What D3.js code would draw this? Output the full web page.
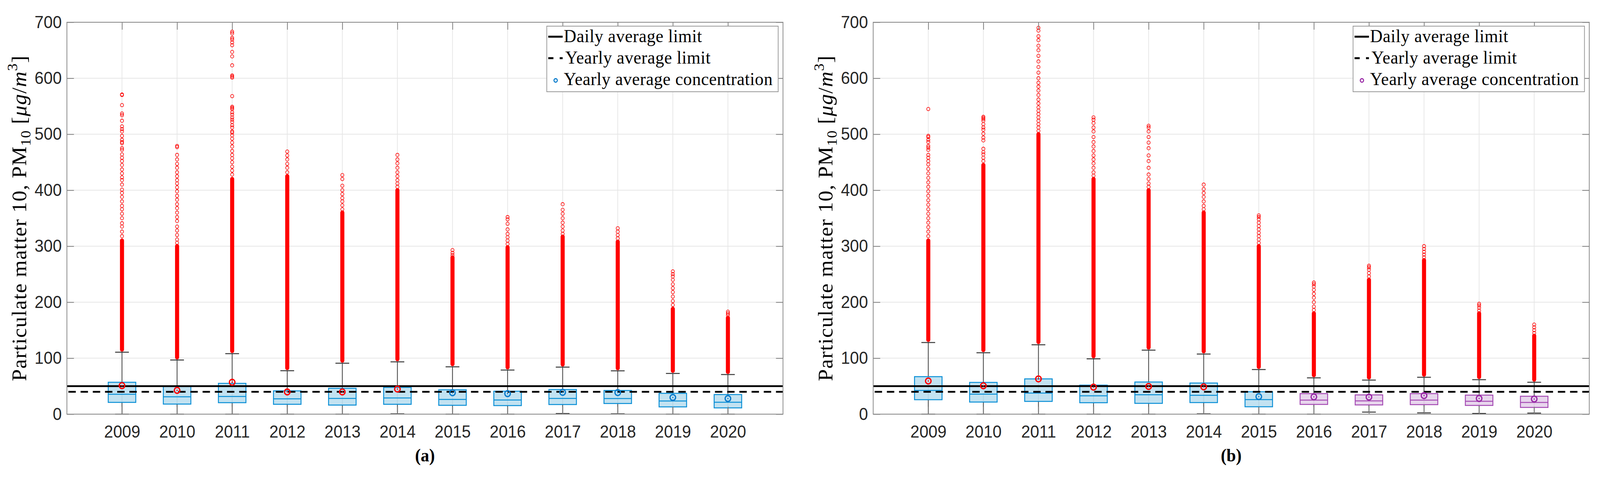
<!DOCTYPE html>
<html><head><meta charset="utf-8">
<script src="https://cdn.jsdelivr.net/npm/d3@7"></script>
<style>html,body{margin:0;padding:0;background:#fff;overflow:hidden;width:100%;height:100%}svg{display:block;width:100vw;height:100vh}</style>
</head><body>
<svg id="c" viewBox="0 0 4328 1222" preserveAspectRatio="none"></svg>
<script>
// ---------- DATA ----------
const years = [2009,2010,2011,2012,2013,2014,2015,2016,2017,2018,2019,2020];
const yTicks = [0,100,200,300,400,500,600,700];

// Panel (a)
const q1A   = [21, 18, 20.5, 17.6, 16.2, 17.6, 15.8, 15.3, 17.2, 19, 13, 11.2];
const medA  = [35.6, 31, 31.6, 27.4, 28.1, 29, 26.3, 25.3, 28, 27.9, 23.5, 21.2];
const q3A   = [57, 49.5, 55, 41.6, 46.2, 47.9, 43.5, 41, 44, 42.3, 37.2, 35];
const loA   = [0, 0, 0, 0, 0, 0.5, 0, 0, 1, 0.5, 0, 0];
const hiA   = [110.6, 96.7, 108, 77.6, 90.9, 93.4, 84.6, 78.8, 84, 77.4, 72.7, 70.7];
const meanA = [51, 42.5, 57, 39.7, 39.7, 44.8, 38.3, 36.7, 39, 38.6, 29.8, 27.9];
const denseA = [310, 300, 420, 425, 360, 400, 280, 298, 317, 308, 188, 172];
const sparseA = [
  [318,326,335,341,350,358,366,372,380,388,395,401,410,418,423,430,437,445,452,458,464,472,475,484,486,490,497,505,509,514,524,534,537,552,570,571],
  [306,312,320,328,335,345,352,360,368,375,383,390,398,405,412,418,425,432,440,447,455,463,477,479],
  [428,435,442,450,457,463,470,478,485,492,498,503,505,512,516,522,526,530,535,539,545,547,549,568,601,603,605,623,639,647,659,664,669,672,680,683],
  [432,440,447,455,462,469],
  [366,373,380,386,393,400,408,420,427],
  [406,412,418,425,432,440,448,455,463],
  [284,288,293],
  [304,310,316,322,330,340,348,352],
  [322,328,335,342,350,358,365,375],
  [314,320,326,332],
  [195,202,210,218,225,232,240,246,250,255],
  [177,180,183]
];
const groupA = ["b","b","b","b","b","b","b","b","b","b","b","b"];
const meanColA = ["r","r","r","r","r","r","b","b","b","b","b","b"];

// Panel (b)
const q1B   = [25.8, 21.6, 22.8, 20.4, 19.3, 20.7, 13.2, 17.4, 16.5, 17, 15.6, 12];
const medB  = [42.3, 35.8, 37.7, 32.8, 34.6, 33.7, 26, 25.1, 23.7, 25.1, 23, 21];
const q3B   = [67, 56.7, 63, 51.8, 57.4, 55.6, 40, 36.7, 34.4, 36.7, 34, 32];
const loB   = [0, 0, 0, 0, 0, 0.5, 0, 0, 3.7, 2.3, 1.2, 2];
const hiB   = [128, 109.7, 124, 98.8, 114.3, 107.4, 79.7, 64.8, 60.9, 65.8, 61.6, 57];
const meanB = [59.3, 50.7, 63, 48.3, 49.5, 48.8, 31.4, 30.9, 30.5, 33.2, 28, 27];
const denseB = [310, 445, 500, 420, 400, 360, 300, 180, 240, 275, 180, 140];
const sparseB = [
  [318,326,334,342,350,358,366,374,382,390,398,406,414,422,430,438,446,452,458,463,472,476,479,486,490,495,497,545],
  [452,458,464,468,474,489,494,501,508,512,518,524,527,529,531],
  [506,512,518,524,530,536,542,548,555,562,570,578,585,592,600,610,620,630,640,650,658,668,675,685,690],
  [426,432,440,448,455,462,470,478,486,495,505,512,520,526,530],
  [406,412,420,428,440,452,462,475,485,495,505,512,515],
  [366,372,380,388,395,402,410],
  [306,312,318,324,330,336,342,348,352,355],
  [186,192,200,208,215,222,228,232,235],
  [246,252,258,262,265],
  [280,285,290,295,300],
  [185,190,194,197],
  [145,150,155,160]
];
const groupB = ["b","b","b","b","b","b","b","p","p","p","p","p"];
const meanColB = ["r","r","r","r","r","r","b","p","p","p","p","p"];

const dailyLimit = 50, yearlyLimit = 40;
const legendLabels = ["Daily average limit", "Yearly average limit", "Yearly average concentration"];

// ---------- STYLE ----------
const COL = {
  b: {edge:"#0a8fd6", fill:"rgba(120,190,225,0.45)", mark:"#0a7ccc"},
  p: {edge:"#a54bb4", fill:"rgba(205,165,215,0.45)", mark:"#992aa6"},
  r: {mark:"#ff0000"}
};
const svg = d3.select("#c");
const yTop = 57, yBot = 1061;
const y = d3.scaleLinear().domain([0,700]).range([yBot, yTop]);
const SERIF = "'Liberation Serif', 'Times New Roman', serif";

const panels = [
  {x0:181, x1:2118, tag:"(a)", q1:q1A, med:medA, q3:q3A, lo:loA, hi:hiA, mean:meanA, dense:denseA, sparse:sparseA, group:groupA, meanCol:meanColA, legMark:"b"},
  {x0:2362, x1:4299, tag:"(b)", q1:q1B, med:medB, q3:q3B, lo:loB, hi:hiB, mean:meanB, dense:denseB, sparse:sparseB, group:groupB, meanCol:meanColB, legMark:"p"}
];

panels.forEach(P => {
  const x = d3.scaleLinear().domain([0,13]).range([P.x0, P.x1]);
  const g = svg.append("g");
  const idx = years.map((d,i)=>i);
  const pos = i => x(i+1);

  // grid
  g.append("g").selectAll("line").data(yTicks).join("line")
    .attr("x1",P.x0).attr("x2",P.x1).attr("y1",d=>y(d)).attr("y2",d=>y(d))
    .attr("stroke","#e6e6e6").attr("stroke-width",2);
  g.append("g").selectAll("line").data(idx).join("line")
    .attr("x1",pos).attr("x2",pos).attr("y1",yTop).attr("y2",yBot)
    .attr("stroke","#e6e6e6").attr("stroke-width",2);

  const bw = x(0.5)-x(0), cw = x(0.25)-x(0);
  // whiskers
  g.append("g").selectAll("line").data(idx).join("line")
    .attr("x1",pos).attr("x2",pos).attr("y1",i=>y(P.q3[i])).attr("y2",i=>y(P.hi[i]))
    .attr("stroke","#3a3a3a").attr("stroke-width",2);
  g.append("g").selectAll("line").data(idx).join("line")
    .attr("x1",pos).attr("x2",pos).attr("y1",i=>y(P.q1[i])).attr("y2",i=>y(P.lo[i]))
    .attr("stroke","#3a3a3a").attr("stroke-width",2);
  ["hi","lo"].forEach(k=>{
    g.append("g").selectAll("line").data(idx).join("line")
      .attr("x1",i=>pos(i)-cw/2).attr("x2",i=>pos(i)+cw/2).attr("y1",i=>y(P[k][i])).attr("y2",i=>y(P[k][i]))
      .attr("stroke","#3a3a3a").attr("stroke-width",2.5);
  });
  // outliers: dense band + sparse points
  g.append("g").selectAll("line").data(idx).join("line")
    .attr("x1",pos).attr("x2",pos).attr("y1",i=>y(P.hi[i])-7).attr("y2",i=>y(P.dense[i]))
    .attr("stroke","#ff0000").attr("stroke-width",11).attr("stroke-linecap","round");
  const pts = [];
  P.sparse.forEach((arr,i)=>arr.forEach(v=>pts.push({i,v})));
  g.append("g").selectAll("circle").data(pts).join("circle")
    .attr("cx",d=>pos(d.i)).attr("cy",d=>y(d.v)).attr("r",4.3)
    .attr("fill","none").attr("stroke","#ff0000").attr("stroke-width",1.6);
  // boxes
  g.append("g").selectAll("rect").data(idx).join("rect")
    .attr("x",i=>pos(i)-bw/2).attr("width",bw)
    .attr("y",i=>y(P.q3[i])).attr("height",i=>y(P.q1[i])-y(P.q3[i]))
    .attr("fill",i=>COL[P.group[i]].fill).attr("stroke",i=>COL[P.group[i]].edge).attr("stroke-width",2.5);
  g.append("g").selectAll("line").data(idx).join("line")
    .attr("x1",i=>pos(i)-bw/2).attr("x2",i=>pos(i)+bw/2).attr("y1",i=>y(P.med[i])).attr("y2",i=>y(P.med[i]))
    .attr("stroke",i=>COL[P.group[i]].edge).attr("stroke-width",2.5);
  // limit lines
  g.append("line").attr("x1",P.x0).attr("x2",P.x1).attr("y1",y(dailyLimit)).attr("y2",y(dailyLimit))
    .attr("stroke","#000").attr("stroke-width",4.5);
  g.append("line").attr("x1",P.x0).attr("x2",P.x1).attr("y1",y(yearlyLimit)).attr("y2",y(yearlyLimit))
    .attr("stroke","#000").attr("stroke-width",4.5).attr("stroke-dasharray","20,13").attr("stroke-dashoffset",-4);
  // mean markers
  g.append("g").selectAll("circle").data(idx).join("circle")
    .attr("cx",pos).attr("cy",i=>y(P.mean[i])).attr("r",7.5)
    .attr("fill","none").attr("stroke",i=>COL[P.meanCol[i]].mark).attr("stroke-width",3.5);
  g.append("g").selectAll("circle").data(idx).join("circle")
    .attr("cx",pos).attr("cy",i=>y(P.mean[i])).attr("r",1.8)
    .attr("fill",i=>COL[P.meanCol[i]].mark);

  // axes
  const styleAxis = a => {
    a.select(".domain").remove();
    a.selectAll(".tick line").attr("stroke","#808080").attr("stroke-width",2);
    a.selectAll("text").attr("font-family","'Liberation Sans', Arial, sans-serif").attr("font-size",44).attr("fill","#262626");
  };
  g.append("g").attr("transform",`translate(${P.x0},0)`)
    .call(d3.axisLeft(y).tickValues(yTicks).tickSize(-19).tickPadding(14)).call(styleAxis);
  g.append("g").attr("transform",`translate(${P.x1},0)`)
    .call(d3.axisRight(y).tickValues(yTicks).tickSize(-19).tickFormat("")).call(styleAxis);
  g.append("g").attr("transform",`translate(0,${yBot})`)
    .call(d3.axisBottom(x).tickValues(d3.range(1,13)).tickFormat(d=>years[d-1]).tickSize(-19).tickPadding(29)).call(styleAxis);
  g.append("g").attr("transform",`translate(0,${yTop})`)
    .call(d3.axisTop(x).tickValues(d3.range(1,13)).tickSize(-19).tickFormat("")).call(styleAxis);
  g.append("rect").attr("x",P.x0).attr("y",yTop).attr("width",P.x1-P.x0).attr("height",yBot-yTop)
    .attr("fill","none").attr("stroke","#858585").attr("stroke-width",2);

  // y label
  const yl = g.append("text").attr("transform",`translate(${P.x0-110},${(yTop+yBot)/2}) rotate(-90)`)
    .attr("text-anchor","middle").attr("font-family",SERIF)
    .attr("font-size",55).attr("letter-spacing",1.5).attr("fill","#000");
  yl.append("tspan").text("Particulate matter 10, PM");
  yl.append("tspan").attr("font-size",38).attr("dy",11).text("10");
  yl.append("tspan").attr("dy",-11).text(" [");
  yl.append("tspan").attr("font-style","italic").text("μg");
  yl.append("tspan").text("/");
  yl.append("tspan").attr("font-style","italic").text("m");
  yl.append("tspan").attr("font-size",38).attr("dy",-24).text("3");
  yl.append("tspan").attr("dy",24).text("]");

  // panel tag
  g.append("text").attr("x",(P.x0+P.x1)/2).attr("y",1182).attr("text-anchor","middle")
    .attr("font-family",SERIF).attr("font-weight","bold").attr("font-size",46).text(P.tag);

  // legend
  const lw = 626, lx = P.x1-13-lw, ly = 67, lh = 168;
  const L = g.append("g");
  L.append("rect").attr("x",lx).attr("y",ly).attr("width",lw).attr("height",lh)
    .attr("fill","#fff").attr("stroke","#999").attr("stroke-width",2);
  const rows = [108,163,218];
  L.append("line").attr("x1",lx+4).attr("x2",lx+43).attr("y1",rows[0]-14).attr("y2",rows[0]-14).attr("stroke","#000").attr("stroke-width",5);
  L.append("line").attr("x1",lx+4).attr("x2",lx+43).attr("y1",rows[1]-14).attr("y2",rows[1]-14).attr("stroke","#000").attr("stroke-width",5).attr("stroke-dasharray","14,17");
  L.append("circle").attr("cx",lx+24).attr("cy",rows[2]-12).attr("r",4.5).attr("fill","none")
    .attr("stroke",COL[P.legMark].mark).attr("stroke-width",2.8);
  L.selectAll("text.lg").data(legendLabels).join("text").attr("class","lg")
    .attr("x",(d,i)=> i===1 ? lx+50 : lx+46).attr("y",(d,i)=>rows[i])
    .attr("font-family",SERIF).attr("font-size",47).attr("letter-spacing",0.6).attr("fill","#000")
    .text(d=>d);
});
</script>
</body></html>
